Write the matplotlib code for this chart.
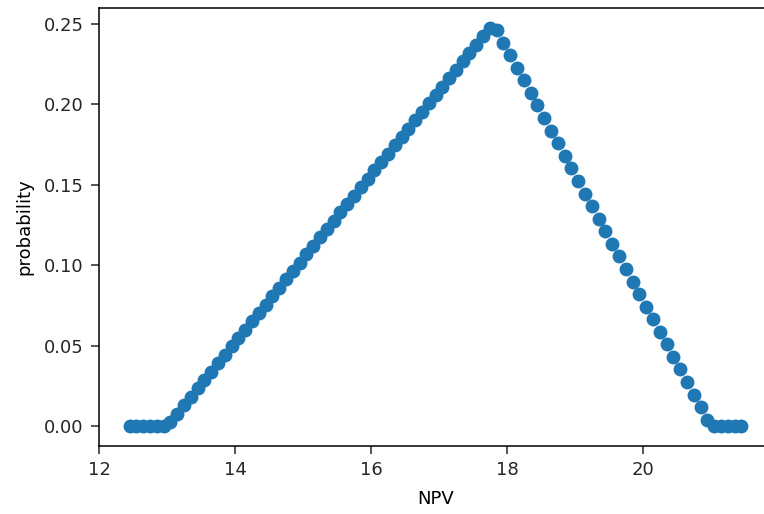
import matplotlib
matplotlib.use("Agg")
import matplotlib.pyplot as plt

npv = [12.45, 12.55, 12.65, 12.75, 12.85, 12.95,
       13.05, 13.15, 13.25, 13.35, 13.45, 13.55, 13.65, 13.75, 13.85, 13.95,
       14.05, 14.15, 14.25, 14.35, 14.45, 14.55, 14.65, 14.75, 14.85, 14.95,
       15.05, 15.15, 15.25, 15.35, 15.45, 15.55, 15.65, 15.75, 15.85, 15.95,
       16.05, 16.15, 16.25, 16.35, 16.45, 16.55, 16.65, 16.75, 16.85, 16.95,
       17.05, 17.15, 17.25, 17.35, 17.45, 17.55, 17.65, 17.75,
       17.85, 17.95, 18.05, 18.15, 18.25, 18.35, 18.45, 18.55, 18.65, 18.75,
       18.85, 18.95, 19.05, 19.15, 19.25, 19.35, 19.45, 19.55, 19.65, 19.75,
       19.85, 19.95, 20.05, 20.15, 20.25, 20.35, 20.45, 20.55, 20.65, 20.75,
       20.85, 20.95,
       21.05, 21.15, 21.25, 21.35, 21.45]

probability = [0.0, 0.0, 0.0, 0.0, 0.0, 0.0,
               0.0026, 0.0078, 0.0130, 0.0182, 0.0234, 0.0286, 0.0339, 0.0391, 0.0443, 0.0495,
               0.0547, 0.0599, 0.0651, 0.0703, 0.0755, 0.0807, 0.0859, 0.0911, 0.0964, 0.1016,
               0.1068, 0.1120, 0.1172, 0.1224, 0.1276, 0.1328, 0.1380, 0.1432, 0.1484, 0.1536,
               0.1589, 0.1641, 0.1693, 0.1745, 0.1797, 0.1849, 0.1901, 0.1953, 0.2005, 0.2057,
               0.2109, 0.2161, 0.2214, 0.2266, 0.2318, 0.2370, 0.2422, 0.2474,
               0.2461, 0.2383, 0.2305, 0.2227, 0.2148, 0.2070, 0.1992, 0.1914, 0.1836, 0.1758,
               0.1680, 0.1602, 0.1523, 0.1445, 0.1367, 0.1289, 0.1211, 0.1133, 0.1055, 0.0977,
               0.0898, 0.0820, 0.0742, 0.0664, 0.0586, 0.0508, 0.0430, 0.0352, 0.0273, 0.0195,
               0.0117, 0.0039,
               0.0, 0.0, 0.0, 0.0, 0.0]

xticks = [12, 14, 16, 18, 20]
yticks = [0.00, 0.05, 0.10, 0.15, 0.20, 0.25]

W, H = 764, 514
fig = plt.figure(figsize=(W / 100, H / 100), dpi=100)
# the right spine of the original lies just beyond the cropped picture edge
left, right, top, bottom = 99, 772, 8, 446
ax = fig.add_axes([left / W, 1 - bottom / H, (right - left) / W, (bottom - top) / H])

ax.plot(npv, probability, 'o', color='#1f77b4', markersize=9, linestyle='none')

ax.set_xticks(xticks)
ax.set_yticks(yticks)
ax.set_yticklabels([f"{v:.2f}" for v in yticks])
ax.set_xlabel("NPV", fontsize=13, labelpad=7.5)
ax.set_ylabel("probability", fontsize=13, labelpad=7.5)
ax.tick_params(labelsize=13, length=6, width=1.1, pad=5, colors='#262626')
for s in ax.spines.values():
    s.set_linewidth(1.1)

fig.savefig("out.png", dpi=100)
